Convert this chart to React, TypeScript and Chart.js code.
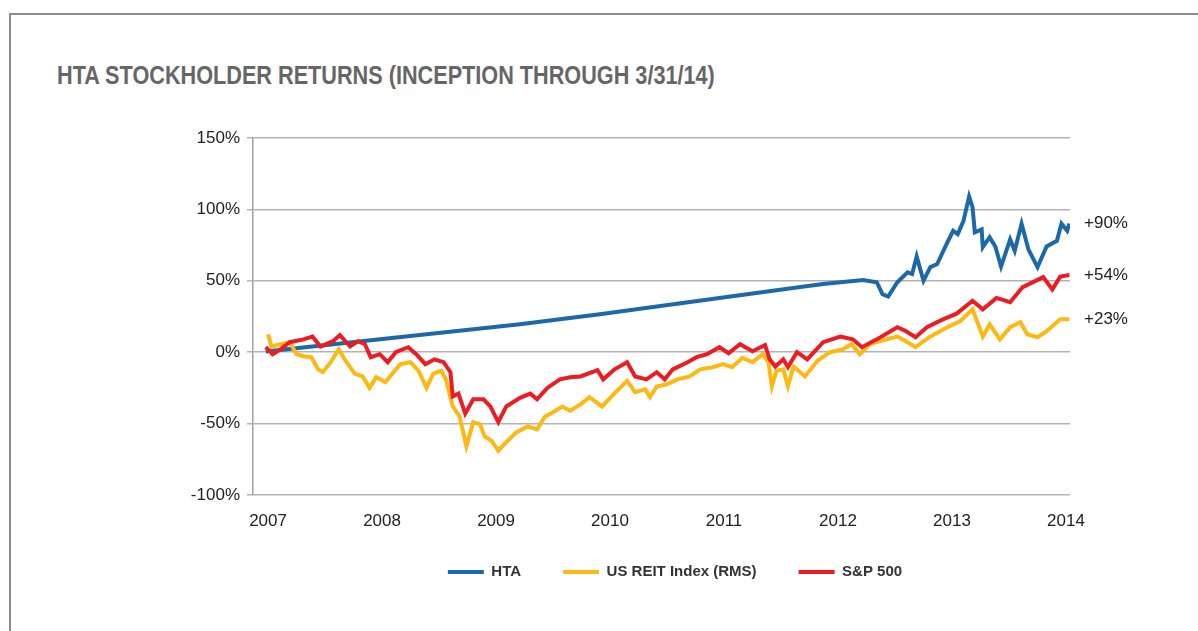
import React, { useEffect, useRef } from 'react';
import { Chart, registerables } from 'chart.js';

Chart.register(...registerables);

const chartTitle = 'HTA STOCKHOLDER RETURNS (INCEPTION THROUGH 3/31/14)';
const seriesNames = ['HTA', 'US REIT Index (RMS)', 'S&P 500'];
const yearTicks = [2007, 2008, 2009, 2010, 2011, 2012, 2013, 2014];
const percentTicks = [-100, -50, 0, 50, 100, 150];

// [decimal year, cumulative return %]
const htaReturns: [number, number][] = [
  [2006.98, 0.5], [2009.21, 19.6], [2009.91, 26.6], [2011.67, 45.6], [2011.87, 47.7],
  [2012.22, 50.5], [2012.34, 49], [2012.39, 40.7], [2012.44, 39], [2012.52, 49],
  [2012.61, 56], [2012.65, 54.7], [2012.69, 67], [2012.75, 50], [2012.81, 59.6],
  [2012.87, 61.7], [2012.96, 77], [2013.01, 85], [2013.05, 82.7], [2013.10, 91.8],
  [2013.15, 109], [2013.18, 101.6], [2013.20, 84], [2013.26, 86], [2013.27, 73.6],
  [2013.33, 80.6], [2013.38, 74], [2013.43, 60], [2013.51, 79], [2013.55, 71],
  [2013.61, 90], [2013.67, 72], [2013.75, 59.6], [2013.83, 74], [2013.92, 78],
  [2013.96, 90], [2014.01, 85], [2014.03, 90],
];

const reitReturns: [number, number][] = [
  [2007.00, 12.6], [2007.03, 4], [2007.11, 5.6], [2007.19, 7], [2007.25, -1.4],
  [2007.31, -2.8], [2007.38, -3.5], [2007.44, -12], [2007.48, -14], [2007.55, -7],
  [2007.62, 2], [2007.68, -6], [2007.76, -15], [2007.83, -17], [2007.89, -25],
  [2007.95, -17.5], [2008.03, -21], [2008.07, -17], [2008.16, -8.4], [2008.25, -7],
  [2008.32, -13], [2008.39, -25], [2008.45, -15], [2008.52, -13], [2008.56, -19],
  [2008.62, -38], [2008.68, -45], [2008.74, -66], [2008.80, -49], [2008.86, -50.5],
  [2008.90, -59], [2008.96, -62], [2009.02, -69], [2009.09, -63], [2009.18, -56],
  [2009.28, -52], [2009.36, -54], [2009.43, -45], [2009.50, -42], [2009.58, -38],
  [2009.65, -41], [2009.74, -36.5], [2009.82, -31.5], [2009.93, -38], [2010.03, -29.5],
  [2010.15, -20], [2010.22, -28], [2010.31, -26], [2010.35, -31.5], [2010.41, -24],
  [2010.50, -22.5], [2010.59, -19], [2010.70, -17], [2010.79, -12], [2010.90, -10.5],
  [2010.99, -8.4], [2011.07, -10.5], [2011.16, -4], [2011.25, -7], [2011.34, -1.4],
  [2011.39, -7], [2011.42, -24], [2011.46, -13], [2011.52, -12], [2011.56, -24],
  [2011.61, -10], [2011.71, -17], [2011.82, -6], [2011.93, 0], [2012.04, 2],
  [2012.12, 5.6], [2012.19, -1.4], [2012.28, 5.6], [2012.37, 7.7], [2012.52, 11],
  [2012.61, 7], [2012.68, 3.5], [2012.81, 11], [2012.96, 17.5], [2013.07, 21.7],
  [2013.18, 30], [2013.23, 19.6], [2013.27, 11], [2013.33, 19.6], [2013.42, 9],
  [2013.51, 17.5], [2013.60, 21], [2013.66, 12.6], [2013.75, 10.5], [2013.83, 14.7],
  [2013.95, 23], [2014.03, 23],
];

const spxReturns: [number, number][] = [
  [2006.98, 3.5], [2007.04, -1.4], [2007.11, 2], [2007.19, 7], [2007.31, 9],
  [2007.39, 11], [2007.46, 4], [2007.57, 7.7], [2007.63, 12], [2007.72, 4],
  [2007.79, 7.7], [2007.85, 5.6], [2007.90, -3.5], [2007.98, -1.4], [2008.05, -7],
  [2008.12, 0], [2008.23, 3.5], [2008.30, -1.4], [2008.38, -8.4], [2008.46, -5],
  [2008.54, -7], [2008.60, -14], [2008.62, -31], [2008.67, -29], [2008.73, -43],
  [2008.80, -33], [2008.89, -33], [2008.95, -38], [2009.02, -49], [2009.09, -38],
  [2009.21, -32], [2009.30, -29], [2009.36, -33], [2009.45, -25], [2009.56, -19],
  [2009.65, -17.5], [2009.74, -17], [2009.89, -12.6], [2009.94, -19], [2010.04, -12],
  [2010.15, -7], [2010.22, -17], [2010.32, -19], [2010.41, -14], [2010.48, -19],
  [2010.55, -12], [2010.68, -7], [2010.76, -3.5], [2010.85, -1.4], [2010.96, 3.5],
  [2011.04, -0.7], [2011.14, 5.6], [2011.25, 0.7], [2011.36, 5], [2011.40, -5],
  [2011.45, -10], [2011.52, -5], [2011.56, -10.5], [2011.64, 0], [2011.73, -5],
  [2011.87, 7], [2012.02, 11], [2012.13, 9], [2012.21, 3.5], [2012.34, 9],
  [2012.52, 17.5], [2012.59, 15], [2012.68, 10.5], [2012.78, 17.5], [2012.92, 23],
  [2013.04, 27], [2013.18, 36], [2013.27, 30], [2013.39, 38], [2013.51, 35],
  [2013.62, 45.6], [2013.80, 52.6], [2013.88, 44], [2013.95, 53], [2014.03, 54],
];

const seriesColors = ['#1c68a8', '#fdb913', '#ed1c24'];
const FONT = '"Liberation Sans", Arial, Helvetica, sans-serif';

export default function App() {
  const canvasRef = useRef<HTMLCanvasElement | null>(null);

  useEffect(() => {
    const canvas = canvasRef.current;
    if (!canvas) return;
    const toPoints = (arr: [number, number][]) => arr.map(([x, y]) => ({ x, y }));
    const allSeries = [htaReturns, reitReturns, spxReturns];

    const endLabelPlugin = {
      id: 'endLabels',
      afterDatasetsDraw(chart: any) {
        const { ctx, chartArea, scales } = chart;
        ctx.save();
        ctx.font = `17px ${FONT}`;
        ctx.fillStyle = '#222';
        ctx.textAlign = 'left';
        ctx.textBaseline = 'middle';
        allSeries.forEach((s) => {
          const last = s[s.length - 1][1];
          ctx.fillText(`+${Math.round(last)}%`, chartArea.right + 14, scales.y.getPixelForValue(last));
        });
        ctx.restore();
      },
    };

    // nudge the legend row up so it sits closer to the axis labels
    const legendOffsetPlugin = {
      id: 'legendOffset',
      afterLayout(chart: any) {
        const lg = chart.legend;
        if (lg) {
          lg.top -= 17.5;
          lg.bottom -= 17.5;
        }
      },
    };

    const chart = new Chart(canvas, {
      type: 'line',
      data: {
        datasets: allSeries.map((s, i) => ({
          label: seriesNames[i],
          data: toPoints(s),
          borderColor: seriesColors[i],
          backgroundColor: seriesColors[i],
          borderWidth: 4,
          pointRadius: 0,
          tension: 0,
          order: 2 - i,
        })),
      },
      options: {
        responsive: false,
        animation: false,
        devicePixelRatio: 1,
        layout: { padding: { left: 152, right: 0, top: 138, bottom: 24 } },
        scales: {
          x: {
            type: 'linear',
            min: 2006.868,
            max: 2014.035,
            afterBuildTicks: (s: any) => {
              s.ticks = yearTicks.map((v) => ({ value: v }));
            },
            ticks: {
              autoSkip: false,
              maxRotation: 0,
              padding: 16,
              color: '#222',
              font: { family: FONT, size: 17 },
              callback: (v: any) => String(v),
            },
            grid: { display: false, drawTicks: false },
            border: { display: false },
            afterFit: (s: any) => {
              s.height = 45;
            },
          },
          y: {
            min: -100,
            max: 150,
            afterBuildTicks: (s: any) => {
              s.ticks = percentTicks.map((v) => ({ value: v }));
            },
            ticks: {
              padding: 7,
              color: '#222',
              font: { family: FONT, size: 17 },
              callback: (v: any) => `${v}%`,
            },
            grid: { color: '#b3b3b3', lineWidth: 1.5, tickLength: 6 },
            border: { color: '#a0a0a0', width: 1.5 },
            afterFit: (s: any) => {
              s.width = 101;
            },
          },
          y2: {
            position: 'right',
            display: true,
            ticks: { display: false },
            grid: { display: false, drawTicks: false },
            border: { display: false },
            afterFit: (s: any) => {
              s.width = 128;
            },
          },
        },
        plugins: {
          legend: {
            position: 'bottom',
            align: 'center',
            labels: {
              boxWidth: 36,
              boxHeight: 4,
              padding: 42,
              color: '#333',
              font: { family: FONT, size: 15, weight: 'bold' },
              sort: (a: any, b: any) => a.datasetIndex - b.datasetIndex,
              generateLabels: (c: any) =>
                (Chart.defaults.plugins.legend.labels as any)
                  .generateLabels(c)
                  .map((l: any) => ({ ...l, lineWidth: 0 })),
            },
          },
          tooltip: { enabled: false },
        },
      } as any,
      plugins: [endLabelPlugin, legendOffsetPlugin],
    });
    return () => chart.destroy();
  }, []);

  return (
    <div style={{ position: 'absolute', left: 0, top: 0, width: 1198, height: 631, background: '#fff', overflow: 'hidden' }}>
      <div
        style={{
          position: 'absolute',
          left: 9,
          top: 13,
          right: 0,
          bottom: 0,
          borderTop: '2px solid #8c8c8c',
          borderLeft: '2px solid #8c8c8c',
        }}
      />
      <div
        style={{
          position: 'absolute',
          left: 57,
          top: 62,
          fontFamily: FONT,
          fontWeight: 'bold',
          fontSize: 26,
          lineHeight: '26px',
          color: '#666',
          whiteSpace: 'nowrap',
          transform: 'scaleX(0.833)',
          transformOrigin: 'left top',
        }}
      >
        {chartTitle}
      </div>
      <canvas ref={canvasRef} width={1198} height={631} style={{ position: 'absolute', left: 0, top: 0 }} />
    </div>
  );
}
